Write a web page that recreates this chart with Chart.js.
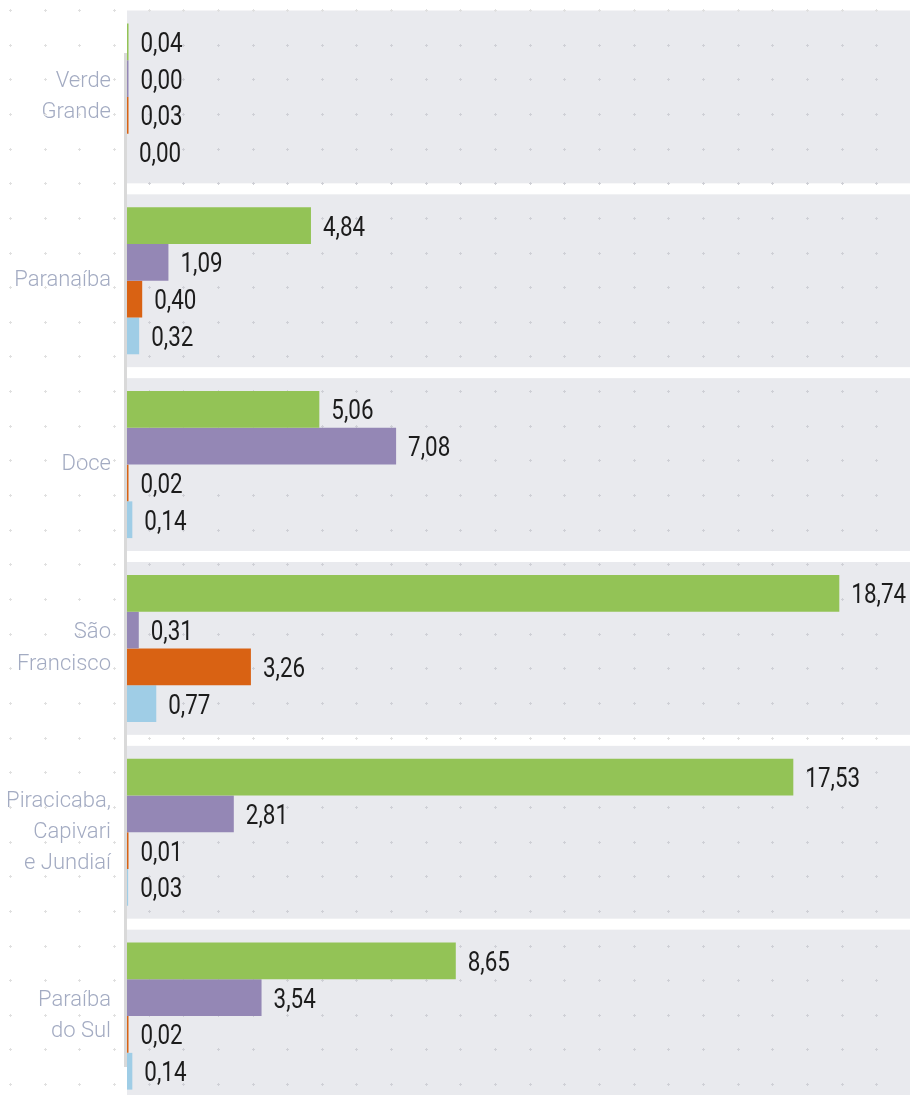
<!DOCTYPE html>
<html>
<head>
<meta charset="utf-8">
<script src="https://cdn.jsdelivr.net/npm/chart.js@4.4.0/dist/chart.umd.min.js"></script>
<style>
  html, body { margin: 0; padding: 0; background: #fff; }
  #wrap { width: 910px; height: 1095px; overflow: hidden; position: relative; }
</style>
</head>
<body>
<div id="wrap"><canvas id="chart" width="910" height="1110"></canvas></div>
<script>
// categories (multi-line labels) and the four series
const categories = [
    ['Verde', 'Grande'],
    ['Paranaíba'],
    ['Doce'],
    ['São', 'Francisco'],
    ['Piracicaba,', 'Capivari', 'e Jundiaí'],
    ['Paraíba', 'do Sul']
];
const greenValues  = [0.04, 4.84, 5.06, 18.74, 17.53, 8.65];
const purpleValues = [0.00, 1.09, 7.08, 0.31, 2.81, 3.54];
const orangeValues = [0.03, 0.40, 0.02, 3.26, 0.01, 0.02];
const blueValues   = [0.00, 0.32, 0.14, 0.77, 0.03, 0.14];

const seriesColors = ['#93c356', '#9487b5', '#d96213', '#9fcde6'];

const PANEL_COLOR = '#e9eaee';
const DOT_STEP = 34.65;

// grey panels behind every category + dotted pattern + axis line
const backgroundPlugin = {
    id: 'panels',
    beforeDatasetsDraw(chart) {
        const c = chart.ctx;
        const area = chart.chartArea;
        const yScale = chart.scales.y;
        const band = (area.bottom - area.top) / categories.length;
        const panels = [];
        c.save();
        c.fillStyle = PANEL_COLOR;
        categories.forEach((cat, i) => {
            const mid = yScale.getPixelForValue(i);
            const top = mid - band / 2 + 5.5;
            const h = band - 11;
            panels.push([top, top + h]);
            c.fillRect(area.left, top, chart.width - area.left, h);
        });
        // dots
        for (let y = 10; y < chart.height; y += DOT_STEP) {
            for (let x = 10; x < chart.width; x += DOT_STEP) {
                const inPanel = x >= area.left && panels.some(p => y >= p[0] && y <= p[1]);
                c.fillStyle = inPanel ? '#cfd0d6' : '#e0e0e0';
                c.fillRect(Math.round(x) - 1, Math.round(y), 3, 1);
                c.fillRect(Math.round(x), Math.round(y) - 1, 1, 3);
            }
        }
        // axis line
        c.fillStyle = '#d9d9d9';
        c.fillRect(area.left - 3, area.top + 48, 3, area.bottom - area.top - 89);
        c.restore();
    }
};

// value labels after each bar (squeezed horizontally to look like the narrow DIN face)
const valueLabels = {
    id: 'valueLabels',
    afterDatasetsDraw(chart) {
        const c = chart.ctx;
        const squeeze = 0.8;
        c.save();
        c.font = '400 28px Roboto, sans-serif';
        c.fillStyle = '#1c1c1c';
        c.textAlign = 'left';
        c.textBaseline = 'middle';
        chart.data.datasets.forEach((ds, di) => {
            chart.getDatasetMeta(di).data.forEach((bar, i) => {
                const txt = ds.data[i].toFixed(2).replace('.', ',');
                c.save();
                c.translate(bar.x + 12, bar.y + 3);
                c.scale(squeeze, 1);
                c.fillText(txt, 0, 0);
                c.restore();
            });
        });
        c.restore();
    }
};

const ctx = document.getElementById('chart').getContext('2d');
const chart = new Chart(ctx, {
    type: 'bar',
    data: {
        labels: categories,
        datasets: [
            { label: 'Série 1', data: greenValues, backgroundColor: seriesColors[0], minBarLength: 1.5 },
            { label: 'Série 2', data: purpleValues, backgroundColor: seriesColors[1], minBarLength: 1.5 },
            { label: 'Série 3', data: orangeValues, backgroundColor: seriesColors[2], minBarLength: 1.5 },
            { label: 'Série 4', data: blueValues, backgroundColor: seriesColors[3] }
        ]
    },
    options: {
        indexAxis: 'y',
        responsive: false,
        devicePixelRatio: 1,
        animation: false,
        layout: { padding: { top: 5, bottom: 2, left: 0, right: 0 } },
        datasets: {
            bar: { barPercentage: 1, categoryPercentage: 0.8, borderWidth: 0 }
        },
        scales: {
            x: {
                display: false,
                min: 0,
                max: 20.6
            },
            y: {
                grid: { display: false, drawTicks: false },
                border: { display: false },
                ticks: {
                    color: '#a3abc2',
                    padding: 16,
                    font: { family: 'Roboto, sans-serif', weight: '300', size: 22, lineHeight: 1.42 }
                },
                afterFit: function(scale) {
                    scale.width = 127;
                    scale.paddingTop = 0;
                    scale.paddingBottom = 0;
                }
            }
        },
        plugins: {
            legend: { display: false },
            tooltip: { enabled: false }
        }
    },
    plugins: [backgroundPlugin, valueLabels]
});
</script>
</body>
</html>
